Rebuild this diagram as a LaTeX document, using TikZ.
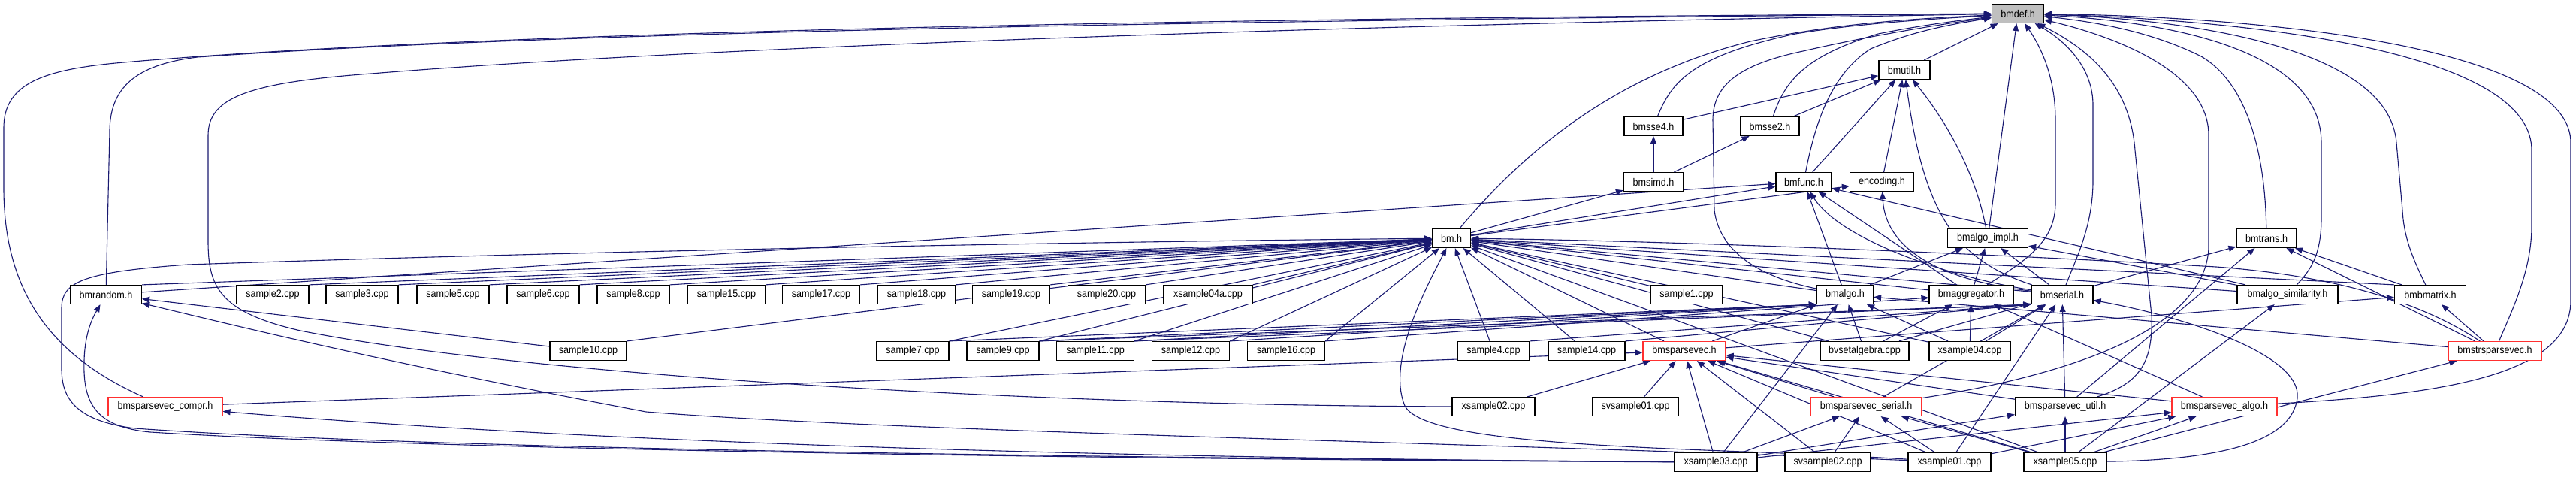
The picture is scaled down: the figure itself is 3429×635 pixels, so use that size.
\documentclass[tikz,border=0pt]{standalone}
\usepackage{fontspec}
\setmainfont{Liberation Sans}[FakeStretch=0.9]
\usetikzlibrary{arrows.meta}
\pgfdeclarelayer{bg}
\pgfsetlayers{bg,main}
\definecolor{edgeblue}{HTML}{191970}
\definecolor{redbox}{HTML}{FF3030}
\definecolor{greybox}{HTML}{BFBFBF}
\tikzset{
  nd/.style={draw=black, line width=1.2pt, fill=white, minimum height=25pt,
    inner xsep=2pt, inner ysep=0pt, font=\fontsize{14}{16}\selectfont, text=black},
  rednd/.style={nd, draw=redbox},
  e/.style={draw=edgeblue, line width=1.1pt, -{Triangle[length=10pt,width=8pt]}},
}
\begin{document}
\begin{tikzpicture}[x=1pt,y=-1pt]
\useasboundingbox (0,0) rectangle (3429,635);
% ---------- nodes ----------
\node[nd,fill=greybox,minimum width=69pt] (bmdef) at (2686,18) {bmdef.h};
\node[nd,minimum width=68pt] (bmutil) at (2535,93) {bmutil.h};
\node[nd,minimum width=78pt] (bmssefour) at (2201,168) {bmsse4.h};
\node[nd,minimum width=78pt] (bmssetwo) at (2356,168) {bmsse2.h};
\node[nd,minimum width=79pt] (bmsimd) at (2201,242) {bmsimd.h};
\node[nd,minimum width=74pt] (bmfunc) at (2401,242) {bmfunc.h};
\node[nd,minimum width=85pt] (encoding) at (2505,242) {encoding.h};
\node[nd,minimum width=51pt] (bm) at (1932,317) {bm.h};
\node[nd,minimum width=107pt] (bmalgoimpl) at (2646,317) {bmalgo\_impl.h};
\node[nd,minimum width=80pt] (bmtrans) at (3017,317) {bmtrans.h};
% row 392
\node[nd,minimum width=95pt] (bmrandom) at (141,392) {bmrandom.h};
\node[nd,minimum width=96pt] (s2) at (363,392) {sample2.cpp};
\node[nd,minimum width=96pt] (s3) at (482,392) {sample3.cpp};
\node[nd,minimum width=96pt] (s5) at (603,392) {sample5.cpp};
\node[nd,minimum width=96pt] (s6) at (723,392) {sample6.cpp};
\node[nd,minimum width=96pt] (s8) at (843,392) {sample8.cpp};
\node[nd,minimum width=103pt] (s15) at (967,392) {sample15.cpp};
\node[nd,minimum width=103pt] (s17) at (1093,392) {sample17.cpp};
\node[nd,minimum width=103pt] (s18) at (1220,392) {sample18.cpp};
\node[nd,minimum width=103pt] (s19) at (1346,392) {sample19.cpp};
\node[nd,minimum width=103pt] (s20) at (1473,392) {sample20.cpp};
\node[nd,minimum width=118pt] (xs04a) at (1608,392) {xsample04a.cpp};
\node[nd,minimum width=96pt] (s1) at (2245,392) {sample1.cpp};
\node[nd,minimum width=75pt] (bmalgo) at (2456,392) {bmalgo.h};
\node[nd,minimum width=112pt] (bmagg) at (2624,392) {bmaggregator.h};
\node[nd,minimum width=82pt] (bmserial) at (2745,392) {bmserial.h};
\node[nd,minimum width=134pt] (bmalgosim) at (3045,392) {bmalgo\_similarity.h};
\node[nd,minimum width=95pt] (bmbmatrix) at (3235,392) {bmbmatrix.h};
% row 467
\node[nd,minimum width=102pt] (s10) at (783,467) {sample10.cpp};
\node[nd,minimum width=96pt] (s7) at (1215,467) {sample7.cpp};
\node[nd,minimum width=96pt] (s9) at (1335,467) {sample9.cpp};
\node[nd,minimum width=103pt] (s11) at (1458,467) {sample11.cpp};
\node[nd,minimum width=103pt] (s12) at (1585,467) {sample12.cpp};
\node[nd,minimum width=103pt] (s16) at (1712,467) {sample16.cpp};
\node[nd,minimum width=96pt] (s4) at (1988,467) {sample4.cpp};
\node[nd,minimum width=102pt] (s14) at (2112,467) {sample14.cpp};
\node[rednd,minimum width=110pt] (bmsv) at (2242,467) {bmsparsevec.h};
\node[nd,minimum width=118pt] (bvset) at (2482,467) {bvsetalgebra.cpp};
\node[nd,minimum width=108pt] (xs04) at (2622,467) {xsample04.cpp};
\node[rednd,minimum width=124pt] (bmstrsv) at (3321,467) {bmstrsparsevec.h};
% row 541
\node[rednd,minimum width=152pt] (compr) at (220,541) {bmsparsevec\_compr.h};
\node[nd,minimum width=110pt] (xs02) at (1988,541) {xsample02.cpp};
\node[nd,minimum width=115pt] (svs01) at (2177,541) {svsample01.cpp};
\node[rednd,minimum width=147pt] (svserial) at (2484,541) {bmsparsevec\_serial.h};
\node[nd,minimum width=133pt] (svutil) at (2749,541) {bmsparsevec\_util.h};
\node[rednd,minimum width=140pt] (svalgo) at (2961,541) {bmsparsevec\_algo.h};
% row 615
\node[nd,minimum width=110pt] (xs03) at (2284,615) {xsample03.cpp};
\node[nd,minimum width=114pt] (svs02) at (2433,615) {svsample02.cpp};
\node[nd,minimum width=110pt] (xs01) at (2595,615) {xsample01.cpp};
\node[nd,minimum width=110pt] (xs05) at (2749,615) {xsample05.cpp};
% ---------- edges ----------
\begin{pgfonlayer}{bg}
% into bmdef.h
\draw[e] (compr) .. controls (60,470) and (5,380) .. (5,250) -- (5,170) .. controls (5,110) and (60,92) .. (165,83) .. controls (600,45) and (1500,24) .. (bmdef);
\draw[e] (bmrandom) -- (146,175) .. controls (146,110) and (190,85) .. (263,76) .. controls (700,45) and (1500,28) .. (bmdef);
\draw[e] (xs02) .. controls (1400,540) and (700,500) .. (400,440) .. controls (290,415) and (277,380) .. (277,320) -- (277,180) .. controls (277,130) and (330,110) .. (494,98) .. controls (900,65) and (1700,35) .. (bmdef);
\draw[e] (bm) .. controls (2030,200) and (2150,100) .. (2330,55) .. controls (2450,30) and (2550,25) .. (bmdef);
\draw[e] (bmssefour) .. controls (2225,110) and (2250,75) .. (2390,45) .. controls (2480,30) and (2580,25) .. (bmdef);
\draw[e] (bmssetwo) .. controls (2375,110) and (2400,75) .. (2500,45) .. controls (2560,33) and (2610,27) .. (bmdef);
\draw[e] (bmalgo) .. controls (2350,370) and (2290,340) .. (2282,280) -- (2280,160) .. controls (2280,110) and (2320,85) .. (2400,68) .. controls (2500,45) and (2600,30) .. (bmdef);
\draw[e] (bmfunc) .. controls (2415,170) and (2435,100) .. (2490,65) .. controls (2550,40) and (2600,32) .. (bmdef);
\draw[e] (bmutil) -- (bmdef);
\draw[e] (bmalgoimpl) -- (bmdef);
\draw[e] (bmagg) .. controls (2700,345) and (2736,320) .. (2736,270) -- (2736,160) .. controls (2736,100) and (2715,60) .. (bmdef);
\draw[e] (bmserial) .. controls (2765,340) and (2786,300) .. (2786,240) -- (2786,140) .. controls (2786,90) and (2750,55) .. (bmdef);
\draw[e] (svutil) .. controls (2850,510) and (2866,480) .. (2864,420) -- (2842,200) .. controls (2836,120) and (2790,70) .. (bmdef);
\draw[e] (svserial) .. controls (2750,500) and (2935,440) .. (2940,330) -- (2940,180) .. controls (2940,90) and (2800,45) .. (bmdef);
\draw[e] (bmtrans) .. controls (3015,200) and (2990,110) .. (2930,75) .. controls (2860,40) and (2780,28) .. (bmdef);
\draw[e] (bmalgosim) .. controls (3075,360) and (3090,340) .. (3090,290) -- (3090,190) .. controls (3090,70) and (2900,30) .. (bmdef);
\draw[e] (bmbmatrix) .. controls (3215,350) and (3200,320) .. (3198,280) -- (3190,190) .. controls (3180,60) and (2900,25) .. (bmdef);
\draw[e] (bmstrsv) .. controls (3345,410) and (3370,360) .. (3370,300) -- (3370,200) .. controls (3370,60) and (2950,25) .. (bmdef);
\draw[e] (svalgo) .. controls (3250,525) and (3422,500) .. (3422,400) -- (3422,190) .. controls (3422,60) and (3000,22) .. (bmdef);
% upper part
\foreach \s/\t in {bmssefour/bmutil, bmssetwo/bmutil, bmfunc/bmutil, encoding/bmutil,
  bmsimd/bmssefour, bmsimd/bmssetwo, bm/bmsimd, bm/bmfunc, bm/encoding,
  bmalgo/bmfunc, bmagg/bmfunc, bmalgosim/bmfunc,
  bmalgo/bmalgoimpl, bmagg/bmalgoimpl, bmserial/bmalgoimpl, bmalgosim/bmalgoimpl,
  bmserial/bmtrans, bmbmatrix/bmtrans, bmstrsv/bmtrans, svutil/bmtrans,
  bmalgo/bm, bmagg/bm, bmserial/bm, bmalgosim/bm, s1/bm, s4/bm, s14/bm, bmsv/bm,
  bvset/bm, xs04/bm, xs05/bm}
  \draw[e] (\s) -- (\t);
\draw[e] (bmserial) .. controls (2600,345) and (2560,280) .. (bmutil);
\draw[e] (bmalgoimpl) .. controls (2630,230) and (2590,160) .. (bmutil);
\draw[e] (bmserial) .. controls (2600,375) and (2510,340) .. (encoding);
\draw[e] (bmserial) .. controls (2600,370) and (2450,320) .. (bmfunc);
\draw[e] (bmbmatrix.north west) -- (bm);
\draw[e] (bmstrsv) .. controls (3250,420) and (3150,370) .. (2950,355) .. controls (2600,335) and (2200,320) .. (bm);
% left samples into bm.h
\foreach \s in {bmrandom, s2, s3, s5, s6, s8, s15, s17, s18, s19, s20, xs04a, s10, s7, s9, s11, s12, s16}
  \draw[e] (\s.north east) -- (bm);
\draw[e] (bmrandom) -- (bmfunc);
\draw[e] (s10) -- (bmrandom);
\foreach \s in {s7, s9, s11, s12}
  \draw[e] (\s.north east) -- (bmalgo.south west);
\foreach \s in {s9, s11, s4, s14}
  \draw[e] (\s.north east) -- (bmserial.south west);
\draw[e] (s16.north east) -- (bmagg);
\foreach \s/\t in {bvset/bmalgo, bvset/bmserial, bvset/bmagg,
  xs04/bmalgo, xs04/bmserial, xs04/bmagg,
  bmsv/bmalgo, bmsv/bmbmatrix, bmstrsv/bmalgo, bmstrsv/bmbmatrix,
  xs02/bmsv, svs01/bmsv, svs02/bmsv, svs02/svserial, compr/bmsv,
  svserial/bmsv, svserial/bmserial, svalgo/bmsv, svalgo/bmagg,
  svutil/bmserial, svutil/bmsv,
  xs03/bmsv, xs03/svserial, xs03/svalgo, xs03/svutil, xs03/bmalgo,
  xs01/bmserial, xs01/bmsv, xs01/svserial, xs01/svalgo,
  xs05/bmstrsv, xs05/svutil, xs05/svserial, xs05/svalgo, xs05/bmalgosim, xs05/bmsv}
  \draw[e] (\s) -- (\t);
% long routed edges
\draw[e] (xs03) .. controls (1600,610) and (600,600) .. (180,570) .. controls (100,560) and (82,530) .. (82,490) -- (82,410) .. controls (82,375) and (110,362) .. (250,352) .. controls (900,330) and (1600,320) .. (bm);
\draw[e] (xs03) .. controls (1600,612) and (600,600) .. (200,575) .. controls (130,568) and (110,540) .. (112,480) .. controls (113,440) and (125,420) .. (bmrandom);
\draw[e] (xs03) .. controls (1500,610) and (800,590) .. (compr);
\draw[e] (xs01) .. controls (2000,590) and (1200,575) .. (860,548) .. controls (500,480) and (300,430) .. (bmrandom);
\draw[e] (xs01) .. controls (2300,595) and (1900,600) .. (1870,540) .. controls (1845,480) and (1900,380) .. (bm);
\draw[e] (xs05) .. controls (2950,612) and (3050,590) .. (3058,530) .. controls (3065,470) and (2900,420) .. (bmserial);
\end{pgfonlayer}
\end{tikzpicture}
\end{document}
